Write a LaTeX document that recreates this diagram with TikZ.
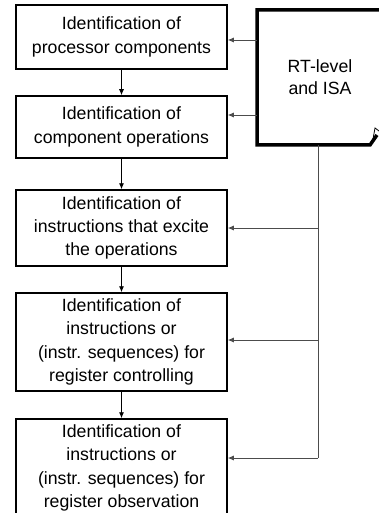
\documentclass[tikz,border=0pt]{standalone}
\usepackage{fontspec}
\setmainfont{Liberation Sans}
\usetikzlibrary{arrows.meta}
\begin{document}
\begin{tikzpicture}[x=1pt,y=-1pt,
  box/.style={draw=black, line width=1.5pt, minimum width=211pt, align=center,
    font=\fontsize{17.7pt}{23.3pt}\selectfont, inner sep=0pt},
  flow/.style={draw=black, line width=0.9pt, -{Latex[length=6pt,width=5pt]}},
  feed/.style={draw=black!70, line width=0.9pt, -{Latex[length=6pt,width=5pt]}},
  rtbox/.style={line width=3.5pt, line join=miter}]
\useasboundingbox (0,0) rectangle (379,513);
\clip (0,0) rectangle (379,513);
\node[box, minimum height=64pt] (b1) at (121.5,37) {Identification of\\processor components};
\node[box, minimum height=62pt] (b2) at (121.5,127) {Identification of\\component operations};
\node[box, minimum height=76pt] (b3) at (121.5,228) {Identification of\\instructions that excite\\the operations};
\node[box, minimum height=98pt] (b4) at (121.5,342) {Identification of\\instructions or\\(instr. sequences) for\\register controlling};
\node[box, minimum height=98pt] (b5) at (121.5,468) {Identification of\\instructions or\\(instr. sequences) for\\register observation};
% RT-level box
\coordinate (rtl) at (257,10);
\draw[rtbox] (390,10) -- (257,10) -- (257,145) -- (370,145) -- (377,135);
\draw[line width=0.8pt] (373,139) -- (375,128) -- (379,131);
\node[font=\fontsize{17.7pt}{21.6pt}\selectfont, align=center] (rt) at (320,77) {RT-level\\and ISA};
\coordinate (rtb) at (318,145);
% flow arrows
\draw[flow] (b1.south) -- (b2.north);
\draw[flow] (b2.south) -- (b3.north);
\draw[flow] (b3.south) -- (b4.north);
\draw[flow] (b4.south) -- (b5.north);
% feed arrows
\coordinate (f1) at (257,40);
\coordinate (f2) at (257,115);
\draw[feed] (f1) -- (f1 -| b1.east);
\draw[feed] (f2) -- (f2 -| b2.east);
\coordinate (c3) at (318,228);
\coordinate (c4) at (318,340);
\coordinate (c5) at (318,458);
\draw[draw=black!70, line width=0.9pt] (rtb) -- (c5);
\draw[feed] (c3) -- (c3 -| b3.east);
\draw[feed] (c4) -- (c4 -| b4.east);
\draw[feed] (c5) -- (c5 -| b5.east);
\end{tikzpicture}
\end{document}
